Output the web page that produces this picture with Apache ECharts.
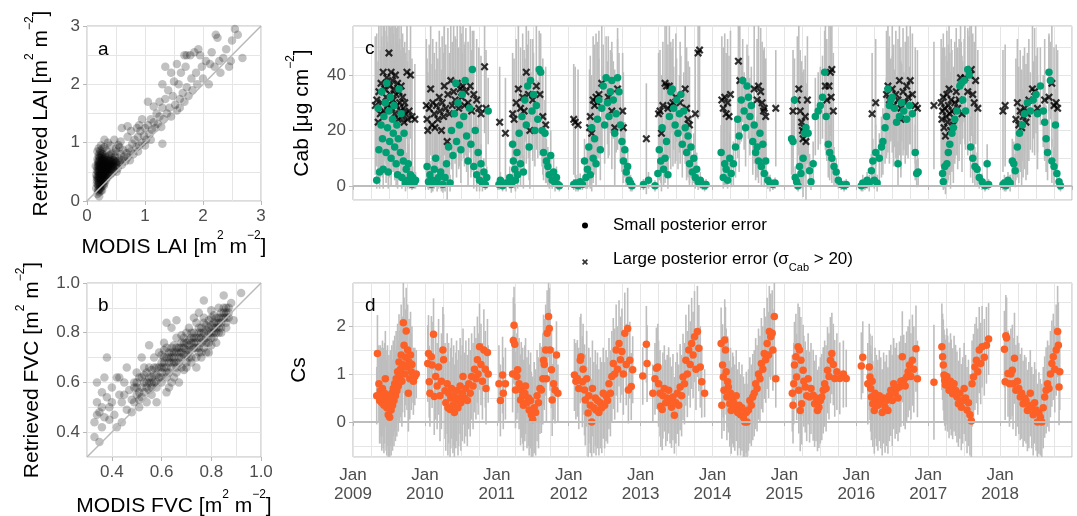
<!DOCTYPE html>
<html>
<head>
<meta charset="utf-8">
<title>LAI / FVC / Cab / Cs</title>
<script src="https://cdn.jsdelivr.net/npm/echarts@6/dist/echarts.min.js"></script>
<style>
html, body { margin: 0; padding: 0; background: #fff; }
#chart { width: 1077px; height: 516px; }
</style>
</head>
<body>
<div id="chart"></div>
<script>
// panel a: [MODIS LAI, retrieved LAI]
const laiPoints = [
  [0.18,0.12],[0.2,0.2],[0.22,0.3],[0.19,0.38],[0.21,0.45],[0.17,0.52],[0.23,0.58],[0.2,0.65],[0.18,0.72],[0.22,0.82],
  [0.25,0.25],[0.26,0.35],[0.24,0.42],[0.27,0.5],[0.25,0.6],[0.28,0.68],[0.26,0.76],[0.3,0.3],[0.31,0.4],[0.29,0.48],
  [0.32,0.55],[0.3,0.62],[0.33,0.7],[0.31,0.78],[0.21,0.15],[0.23,0.22],[0.19,0.28],[0.24,0.33],[0.2,0.55],[0.22,0.48],
  [0.28,0.44],[0.34,0.46],[0.35,0.58],[0.36,0.64],[0.38,0.5],[0.37,0.72],[0.4,0.55],[0.42,0.62],[0.39,0.68],[0.41,0.8],
  [0.44,0.58],[0.45,0.7],[0.47,0.64],[0.43,0.48],[0.48,0.76],[0.5,0.6],[0.52,0.68],[0.49,0.85],[0.53,0.56],[0.55,0.74],
  [0.57,0.66],[0.58,0.8],[0.6,0.7],[0.62,0.88],[0.56,0.92],[0.6,0.62],[0.64,0.76],[0.66,0.68],[0.18,0.85],[0.16,0.45],
  [0.15,0.6],[0.17,0.3],[0.2,0.9],[0.27,0.9],[0.24,0.95],[0.34,0.86],[0.3,0.92],[0.22,0.7],[0.26,0.55],[0.29,0.58],
  [0.32,0.35],[0.35,0.4],[0.37,0.44],[0.33,0.52],[0.4,0.45],[0.46,0.52],[0.51,0.5],[0.36,0.55],[0.39,0.6],[0.43,0.67],
  [0.45,0.62],[0.48,0.68],[0.42,0.74],[0.2,0.35],[0.23,0.4],[0.25,0.47],[0.21,0.6],[0.19,0.68],[0.28,0.62],[0.31,0.66],
  [0.27,0.72],[0.24,0.78],[0.26,0.18],[0.21,0.08],[0.29,0.26],[0.33,0.6],[0.38,0.78],[0.44,0.82],[0.5,0.9],[0.54,0.96],
  [0.58,1.02],[0.47,1.05],[0.4,0.95],[0.36,1.0],[0.3,1.05],[0.2,0.5],[0.22,0.42],[0.24,0.52],[0.2,0.25],[0.23,0.62],
  [0.26,0.45],[0.28,0.35],[0.3,0.5],[0.21,0.75],[0.25,0.7],
  [0.16,0.22],[0.17,0.35],[0.18,0.42],[0.19,0.18],[0.19,0.5],[0.2,0.42],[0.2,0.6],[0.2,0.78],[0.21,0.32],[0.21,0.52],
  [0.21,0.68],[0.22,0.2],[0.22,0.38],[0.22,0.56],[0.22,0.64],[0.23,0.28],[0.23,0.46],[0.23,0.74],[0.23,0.86],[0.24,0.18],
  [0.24,0.37],[0.24,0.58],[0.24,0.66],[0.25,0.3],[0.25,0.52],[0.25,0.82],[0.26,0.4],[0.26,0.62],[0.26,0.68],[0.27,0.28],
  [0.27,0.45],[0.27,0.58],[0.27,0.8],[0.28,0.38],[0.28,0.52],[0.28,0.74],[0.29,0.34],[0.29,0.64],[0.29,0.7],[0.3,0.45],
  [0.3,0.55],[0.3,0.72],[0.31,0.5],[0.31,0.6],[0.32,0.44],[0.32,0.66],[0.32,0.75],[0.33,0.4],[0.33,0.56],[0.34,0.52],
  [0.34,0.64],[0.35,0.5],[0.35,0.7],[0.36,0.46],[0.36,0.6],[0.37,0.56],[0.38,0.62],[0.38,0.68],[0.39,0.54],[0.4,0.64],
  [0.41,0.58],[0.41,0.7],[0.42,0.54],[0.43,0.6],[0.44,0.66],[0.45,0.56],[0.46,0.6],[0.47,0.7],[0.5,0.66],[0.52,0.62],
  [0.18,0.58],[0.17,0.4],[0.19,0.62],[0.2,0.3],[0.21,0.4],[0.23,0.52],[0.25,0.42],[0.26,0.5],[0.28,0.58],[0.3,0.4],
  [0.68,0.82],[0.7,0.75],[0.72,0.9],[0.75,0.85],[0.78,0.98],[0.8,0.8],[0.82,1.05],[0.85,0.92],[0.88,1.1],[0.9,0.95],
  [0.92,1.2],[0.95,1.0],[0.98,1.12],[1.0,1.25],[1.02,1.05],[1.05,1.3],[1.08,1.15],[1.1,1.4],[1.12,1.22],[1.15,1.35],
  [1.18,1.25],[1.2,1.5],[1.22,1.32],[1.25,1.45],[1.28,1.27],[1.3,1.6],[0.7,1.1],[0.76,1.2],[0.86,1.25],[0.95,1.4],
  [0.74,0.7],[0.88,0.85],[1.0,0.95],[1.1,1.05],[1.3,0.98],[1.15,1.62],[1.05,1.7],[0.9,1.3],[0.6,1.25],[0.7,1.28],[1.25,1.7],
  [1.32,1.4],[1.35,1.75],[1.38,1.5],[1.4,1.9],[1.42,1.6],[1.45,1.45],[1.48,1.8],[1.5,2.05],[1.52,1.65],[1.55,1.55],
  [1.58,2.0],[1.6,1.75],[1.62,2.2],[1.65,1.85],[1.68,1.7],[1.7,2.3],[1.72,1.95],[1.75,1.8],[1.78,2.5],[1.8,2.1],
  [1.82,1.9],[1.85,2.55],[1.88,2.2],[1.9,2.0],[1.95,2.5],[1.98,2.3],[2.0,2.1],[1.45,2.2],[1.55,2.35],[1.3,2.0],
  [1.35,2.3],[1.68,2.5],[1.72,2.5],[1.6,1.6],[2.05,2.4],[2.1,2.0],[2.15,2.55],[2.2,2.3],[2.22,2.85],[2.25,2.8],
  [2.28,2.4],[2.3,2.2],[2.35,2.45],[2.4,2.6],[2.45,2.3],[2.5,2.75],[2.55,2.95],[2.6,2.85],[2.68,2.45],[2.48,2.4],
  [2.12,2.35],[1.92,2.6]
];

// panel b: [MODIS FVC, retrieved FVC]
const fvcPoints = [
  [0.33,0.44],[0.34,0.52],[0.35,0.48],[0.33,0.38],[0.36,0.56],[0.37,0.46],[0.38,0.54],[0.34,0.6],[0.36,0.42],[0.39,0.5],
  [0.4,0.58],[0.38,0.7],[0.41,0.47],[0.42,0.62],[0.43,0.55],[0.44,0.52],[0.45,0.6],[0.46,0.49],[0.44,0.44],[0.47,0.57],
  [0.48,0.53],[0.42,0.42],[0.35,0.36],[0.37,0.62],[0.4,0.52],[0.45,0.55],[0.46,0.66],[0.49,0.6],[0.48,0.48],[0.43,0.62],
  [0.39,0.45],[0.34,0.47],[0.36,0.5],
  [0.49,0.52],[0.5,0.55],[0.5,0.6],[0.51,0.53],[0.5,0.64],[0.52,0.58],[0.52,0.62],[0.53,0.56],[0.54,0.6],[0.53,0.66],
  [0.55,0.62],[0.55,0.57],[0.56,0.65],[0.56,0.6],[0.57,0.7],[0.57,0.63],[0.58,0.58],[0.58,0.66],[0.59,0.62],[0.59,0.72],
  [0.6,0.64],[0.6,0.68],[0.51,0.5],[0.54,0.52],[0.56,0.55],[0.58,0.52],[0.55,0.75],[0.52,0.7],[0.49,0.58],
  [0.61,0.66],[0.61,0.7],[0.62,0.62],[0.62,0.74],[0.63,0.68],[0.63,0.64],[0.64,0.72],[0.64,0.66],[0.65,0.7],[0.65,0.75],
  [0.66,0.68],[0.66,0.64],[0.66,0.78],[0.67,0.72],[0.67,0.7],[0.68,0.74],[0.68,0.66],[0.69,0.76],[0.69,0.71],[0.7,0.73],
  [0.7,0.68],[0.7,0.8],[0.62,0.84],[0.64,0.82],[0.6,0.6],[0.63,0.58],[0.65,0.62],[0.67,0.6],[0.69,0.65],[0.62,0.56],
  [0.66,0.85],[0.64,0.6],[0.61,0.76],[0.68,0.79],
  [0.71,0.75],[0.71,0.7],[0.72,0.78],[0.72,0.73],[0.73,0.76],[0.73,0.8],[0.74,0.74],[0.74,0.7],[0.75,0.78],[0.75,0.82],
  [0.76,0.76],[0.76,0.8],[0.77,0.74],[0.77,0.84],[0.78,0.78],[0.78,0.81],[0.79,0.76],[0.79,0.85],[0.8,0.8],[0.8,0.83],
  [0.72,0.68],[0.74,0.66],[0.76,0.72],[0.78,0.72],[0.8,0.75],[0.73,0.86],[0.75,0.88],[0.77,0.93],[0.71,0.82],[0.79,0.72],
  [0.76,0.7],[0.74,0.84],
  [0.81,0.82],[0.81,0.78],[0.82,0.84],[0.82,0.8],[0.83,0.86],[0.83,0.82],[0.84,0.88],[0.84,0.84],[0.85,0.86],[0.85,0.9],
  [0.86,0.88],[0.86,0.84],[0.87,0.9],[0.82,0.76],[0.84,0.8],[0.86,0.82],[0.88,0.92],[0.85,0.95],[0.83,0.9],[0.92,0.96],
  [0.89,0.85],[0.81,0.87],[0.8,0.89],[0.87,0.86],
  [0.5,0.58],[0.51,0.56],[0.51,0.62],[0.52,0.54],[0.53,0.6],[0.54,0.58],[0.54,0.64],[0.55,0.6],[0.56,0.62],[0.57,0.6],
  [0.57,0.66],[0.58,0.63],[0.59,0.66],[0.6,0.66],[0.6,0.71],[0.61,0.68],[0.61,0.73],[0.62,0.7],[0.62,0.66],[0.63,0.72],
  [0.63,0.7],[0.64,0.68],[0.64,0.74],[0.65,0.72],[0.65,0.68],[0.66,0.72],[0.66,0.74],[0.67,0.74],[0.67,0.68],[0.68,0.72],
  [0.68,0.76],[0.69,0.74],[0.69,0.78],[0.7,0.76],[0.7,0.71],[0.71,0.77],[0.71,0.73],[0.72,0.76],[0.72,0.8],[0.73,0.74],
  [0.73,0.78],[0.74,0.78],[0.74,0.76],[0.75,0.8],[0.75,0.74],[0.76,0.78],[0.76,0.82],[0.77,0.8],[0.77,0.77],[0.78,0.83],
  [0.78,0.76],[0.79,0.8],[0.79,0.82],[0.8,0.78],[0.8,0.86],[0.81,0.84],[0.81,0.8],[0.82,0.86],[0.82,0.82],[0.83,0.84],
  [0.83,0.8],[0.84,0.86],[0.84,0.82],[0.85,0.88],[0.86,0.86],[0.86,0.9],[0.87,0.88],[0.75,0.72],[0.72,0.7],[0.7,0.66],
  [0.68,0.7],[0.66,0.66],[0.64,0.7],[0.62,0.64],[0.6,0.62],[0.58,0.6],[0.56,0.58],[0.55,0.66],[0.53,0.63],[0.77,0.86]
];

// 1:1 reference lines
const identityLai = [[0, 0], [3, 3]];
const identityFvc = [[0.3, 0.3], [1, 1]];

// panel c: [decimal year, Cab, posterior sd], small posterior error
const cabSmall = [
  [2009.33,2,3],[2009.35,28,14],[2009.36,13,10],[2009.37,5,6],[2009.39,22,16],[2009.40,34,16],[2009.41,17,14],[2009.42,6,7],
  [2009.43,25,16],[2009.45,30,17],[2009.46,12,11],[2009.47,37,17],[2009.48,21,15],[2009.49,5,6],[2009.50,27,16],[2009.51,16,13],
  [2009.52,32,17],[2009.53,10,10],[2009.55,24,16],[2009.56,19,14],[2009.57,29,17],[2009.58,14,12],[2009.60,8,8],[2009.61,22,15],
  [2009.62,4,5],[2009.63,17,13],[2009.64,35,16],[2009.66,12,10],[2009.67,26,15],[2009.68,3,4],[2009.70,9,8],[2009.71,19,13],
  [2009.73,1,3],[2009.74,6,6],[2009.76,2,3],[2009.77,8,7],[2009.79,1,2],[2009.80,4,4],[2009.82,0.5,2],[2009.83,3,4],
  [2009.85,1,2],[2009.87,2,3],
  [2010.03,7,7],[2010.05,1.5,3],[2010.07,4,5],[2010.09,0.5,3],[2010.11,2,4],[2010.13,6,7],[2010.15,10,9],[2010.17,1,3],
  [2010.19,3,4],[2010.22,5,6],[2010.25,0.5,3],[2010.28,3,5],[2010.30,8,8],[2010.33,14,12],[2010.35,1,3],[2010.37,20,14],
  [2010.39,11,10],[2010.41,26,16],[2010.43,37,16],[2010.44,16,13],[2010.46,30,15],[2010.48,22,15],[2010.50,13,12],[2010.52,33,15],
  [2010.54,25,15],[2010.56,38,14],[2010.58,18,13],[2010.60,9,9],[2010.62,28,14],[2010.64,15,12],[2010.66,42,14],[2010.68,7,8],
  [2010.70,20,13],[2010.72,4,6],[2010.74,12,10],[2010.76,2,4],[2010.78,8,7],[2010.80,1,3],[2010.82,5,5],[2010.84,0.5,2],
  [2010.86,3,4],[2010.88,27,12],
  [2011.03,0.5,2],[2011.05,2,3],[2011.08,0,2],[2011.13,1,3],[2011.18,3,4],[2011.20,0.5,3],[2011.22,15,12],[2011.23,9,9],
  [2011.25,6,7],[2011.26,2,4],[2011.28,12,11],[2011.29,4,5],[2011.31,19,14],[2011.33,8,8],[2011.35,25,15],[2011.37,5,6],
  [2011.39,31,15],[2011.41,22,14],[2011.43,36,15],[2011.45,14,12],[2011.47,38,15],[2011.49,27,14],[2011.51,33,15],[2011.53,20,13],
  [2011.55,29,14],[2011.57,24,14],[2011.59,42,14],[2011.61,41,14],[2011.63,20,13],[2011.65,12,10],[2011.67,19,12],[2011.69,9,8],
  [2011.71,7,7],[2011.73,4,5],[2011.75,11,9],[2011.77,2,3],[2011.79,5,5],[2011.81,1,3],[2011.83,3,4],[2011.85,0.5,2],[2011.87,0,2],
  [2012.07,0.5,2],[2012.10,1,3],[2012.13,0,2],[2012.16,1.5,3],[2012.19,0.5,2],[2012.22,9,8],[2012.24,3,4],[2012.26,6,7],
  [2012.28,14,11],[2012.30,4,5],[2012.32,21,14],[2012.34,10,9],[2012.36,17,13],[2012.38,8,8],[2012.40,24,14],[2012.42,31,15],
  [2012.44,13,11],[2012.46,28,15],[2012.48,36,15],[2012.50,22,14],[2012.52,39,15],[2012.54,30,15],[2012.56,25,14],[2012.58,34,15],
  [2012.60,38,14],[2012.62,31,14],[2012.64,19,13],[2012.66,26,14],[2012.68,39,14],[2012.70,34,14],[2012.72,22,13],[2012.74,16,11],
  [2012.76,9,8],[2012.78,13,10],[2012.80,5,5],[2012.82,7,6],[2012.84,2,3],[2012.86,1,3],[2012.88,0,2],
  [2013.04,0.5,2],[2013.11,2,3],[2013.20,0,2],
  [2013.24,4.5,5],[2013.26,13,11],[2013.28,9,8],[2013.30,21,14],[2013.32,6,6],[2013.34,10,9],[2013.36,16,12],[2013.38,4,5],
  [2013.40,25,15],[2013.42,34,15],[2013.44,35,15],[2013.46,28,15],[2013.48,22,14],[2013.50,31,15],[2013.52,19,13],[2013.54,26,14],
  [2013.56,33,14],[2013.58,15,12],[2013.60,27,14],[2013.62,21,13],[2013.64,12,10],[2013.66,18,12],[2013.68,8,8],[2013.70,14,11],
  [2013.72,5,5],[2013.74,10,9],[2013.76,3,4],[2013.78,6,6],[2013.80,1.5,3],[2013.83,2,3],[2013.86,0.5,2],[2013.89,0,2],[2013.91,0.5,2],
  [2014.12,12,10],[2014.15,3,4],[2014.17,8,8],[2014.19,6,6],[2014.21,2,3],[2014.24,10,9],[2014.26,4.5,5],[2014.29,8,8],
  [2014.32,14,11],[2014.35,24,14],[2014.37,18,13],[2014.40,31,15],[2014.42,38,15],[2014.44,27,14],[2014.46,21,14],[2014.48,36,15],
  [2014.50,32,15],[2014.52,25,14],[2014.54,29,14],[2014.56,16,12],[2014.58,22,14],[2014.60,12,10],[2014.62,14,11],[2014.64,9,8],
  [2014.66,19,12],[2014.68,7,7],[2014.70,15,11],[2014.72,4.5,5],[2014.74,9,8],[2014.77,2,3],[2014.80,1,3],[2014.84,0.5,2],[2014.87,1,2],
  [2015.10,17,13],[2015.12,16,12],[2015.14,31,15],[2015.15,3,4],[2015.17,1.5,3],[2015.19,0,2],[2015.21,7,7],[2015.23,4.5,5],
  [2015.26,10,9],[2015.28,19,13],[2015.30,21,13],[2015.33,19,13],[2015.35,5.5,6],[2015.37,1.5,3],[2015.40,8,8],[2015.43,25,14],
  [2015.47,27,14],[2015.50,29,14],[2015.53,32,15],[2015.56,41,15],[2015.58,25,14],[2015.61,15,12],[2015.63,12,10],[2015.66,10,9],
  [2015.69,7,7],[2015.72,5,5],[2015.75,2,3],[2015.79,0.5,2],[2015.83,0,2],[2015.86,0.5,2],
  [2016.07,0,2],[2016.09,1,3],[2016.12,0.5,2],[2016.15,2,3],[2016.18,1,3],[2016.21,5.5,6],[2016.23,9,8],[2016.25,2,3],
  [2016.27,12,10],[2016.29,1,3],[2016.32,10,9],[2016.35,14,11],[2016.37,16,12],[2016.40,21,13],[2016.42,25,14],[2016.44,35,15],
  [2016.46,29,14],[2016.48,31,15],[2016.50,32,15],[2016.53,28,14],[2016.56,23,14],[2016.58,8,8],[2016.60,25,14],[2016.63,30,14],
  [2016.66,27,14],[2016.70,24,13],[2016.74,29,14],[2016.78,26,13],[2016.82,12,10],[2016.84,4.5,5],[2016.86,5,5],
  [2017.20,4.5,5],[2017.21,1.5,3],[2017.23,7,7],[2017.26,8,8],[2017.28,12,10],[2017.30,15,11],[2017.33,19,13],[2017.35,21,13],
  [2017.37,24,14],[2017.40,27,14],[2017.44,36,15],[2017.46,37,15],[2017.48,31,14],[2017.50,38,15],[2017.52,27,14],[2017.55,42,14],
  [2017.57,40,14],[2017.59,14,11],[2017.62,10,9],[2017.65,7,7],[2017.68,6,6],[2017.71,3,4],[2017.75,1.5,3],[2017.79,0,2],
  [2017.82,8,7],[2017.84,0.5,2],
  [2018.04,0.5,2],[2018.06,1,3],[2018.08,0,2],[2018.11,2,3],[2018.14,1,3],[2018.17,9,8],[2018.19,8,8],[2018.21,5.5,6],
  [2018.24,14,11],[2018.27,19,12],[2018.31,22,13],[2018.34,26,14],[2018.38,30,14],[2018.42,27,14],[2018.46,31,14],[2018.50,33,14],
  [2018.52,26,14],[2018.56,36,14],[2018.60,27,13],[2018.62,23,13],[2018.64,17,12],[2018.66,12,10],[2018.68,41,14],[2018.70,38,14],
  [2018.72,9,8],[2018.75,7,7],[2018.77,22,13],[2018.79,4.5,5],[2018.82,1.5,3],[2018.84,0,2]
];

// panel c: large posterior error (sd > 20)
const cabLarge = [
  [2009.31,29,25],[2009.33,31,24],[2009.35,23,22],[2009.36,34,26],[2009.38,26,23],[2009.39,37,25],[2009.40,30,24],[2009.42,41,26],
  [2009.43,27,23],[2009.44,35,25],[2009.46,32,24],[2009.47,39,25],[2009.48,29,23],[2009.50,48,27],[2009.51,36,25],[2009.52,33,24],
  [2009.53,41,25],[2009.54,28,23],[2009.55,38,25],[2009.56,31,24],[2009.57,35,24],[2009.58,26,22],[2009.59,40,25],[2009.60,33,24],
  [2009.61,29,23],[2009.62,37,25],[2009.63,24,22],[2009.64,34,24],[2009.65,30,23],[2009.66,27,22],[2009.67,36,24],[2009.68,25,22],
  [2009.69,32,23],[2009.70,28,22],[2009.71,23,21],[2009.72,30,22],[2009.73,26,22],[2009.75,41,24],[2009.76,24,21],[2009.78,27,22],
  [2009.80,40,23],[2009.82,25,21],[2009.86,24,20],
  [2010.02,29,24],[2010.03,24,22],[2010.04,20,21],[2010.06,28,23],[2010.08,35,24],[2010.10,22,22],[2010.11,30,23],[2010.13,26,22],
  [2010.14,21,21],[2010.16,29,23],[2010.18,24,22],[2010.20,32,24],[2010.21,27,23],[2010.23,20,22],[2010.24,30,24],[2010.26,25,23],
  [2010.27,36,25],[2010.29,28,23],[2010.31,16,21],[2010.32,33,24],[2010.34,26,22],[2010.36,38,25],[2010.38,29,23],[2010.40,34,24],
  [2010.42,31,23],[2010.45,37,24],[2010.47,28,22],[2010.49,35,24],[2010.51,32,23],[2010.53,36,24],[2010.55,29,22],[2010.57,34,23],
  [2010.60,30,22],[2010.63,36,24],[2010.65,27,22],[2010.68,33,23],[2010.72,31,22],[2010.75,28,22],[2010.78,26,21],[2010.83,43,24],
  [2010.85,28,21],
  [2011.04,23,20],[2011.12,19,20],[2011.22,26,22],[2011.24,24,22],[2011.27,30,23],[2011.30,35,24],[2011.33,28,22],[2011.36,32,23],
  [2011.38,27,22],[2011.41,41,24],[2011.44,33,23],[2011.46,20,21],[2011.50,31,22],[2011.55,36,23],[2011.60,33,22],[2011.64,25,21],
  [2011.68,22,21],
  [2012.07,24,20],[2012.09,23,20],[2012.13,22,20],[2012.29,21,21],[2012.30,25,22],[2012.32,19,21],[2012.34,31,23],[2012.36,29,22],
  [2012.38,32,23],[2012.40,30,22],[2012.42,33,23],[2012.46,37,24],[2012.55,32,22],[2012.60,27,21],[2012.64,21,21],[2012.68,35,22],
  [2012.75,27,21],[2012.76,21,20],[2013.08,17,20],
  [2013.25,26,22],[2013.27,27,22],[2013.29,19,21],[2013.31,29,23],[2013.34,37,25],[2013.36,36,24],[2013.38,28,23],[2013.40,36,24],
  [2013.42,29,23],[2013.45,30,23],[2013.49,32,23],[2013.55,30,22],[2013.62,35,23],[2013.64,28,22],[2013.66,24,21],[2013.68,22,21],
  [2013.76,26,21],[2013.80,48,24],[2013.82,49,24],
  [2014.13,31,23],[2014.15,28,22],[2014.17,32,23],[2014.19,26,22],[2014.21,30,23],[2014.23,25,22],[2014.25,33,23],[2014.36,45,24],
  [2014.38,38,23],[2014.58,35,23],[2014.62,31,22],[2014.64,36,23],[2014.67,34,23],[2014.69,30,22],[2014.71,27,22],[2014.72,28,22],
  [2014.74,25,21],[2014.88,28,21],
  [2015.12,27,22],[2015.18,31,23],[2015.20,35,24],[2015.22,27,22],[2015.24,23,22],[2015.25,20,21],[2015.26,17,21],[2015.27,21,21],
  [2015.29,25,22],[2015.32,31,23],[2015.30,16,21],[2015.57,36,23],[2015.59,31,22],[2015.64,41,23],[2015.66,42,23],[2015.62,36,22],
  [2015.68,27,21],[2015.65,32,22],
  [2016.22,26,22],[2016.27,30,23],[2016.42,33,23],[2016.44,36,24],[2016.46,31,23],[2016.50,35,23],[2016.52,29,22],[2016.55,33,23],
  [2016.58,31,22],[2016.60,38,24],[2016.62,28,22],[2016.65,34,23],[2016.68,30,22],[2016.70,36,23],[2016.72,32,22],[2016.75,38,23],
  [2016.78,33,22],[2016.82,29,21],[2016.85,28,21],[2016.62,24,21],
  [2017.08,29,23],[2017.18,30,23],[2017.19,24,22],[2017.20,27,23],[2017.21,32,23],[2017.22,21,22],[2017.23,28,22],[2017.24,18,21],
  [2017.25,25,22],[2017.26,33,23],[2017.27,23,22],[2017.28,29,22],[2017.29,35,24],[2017.30,26,22],[2017.31,20,21],[2017.32,31,22],
  [2017.33,27,22],[2017.35,22,21],[2017.37,30,22],[2017.39,34,23],[2017.41,28,22],[2017.43,31,22],[2017.45,39,24],[2017.47,26,21],
  [2017.51,39,24],[2017.55,34,23],[2017.58,40,24],[2017.60,42,24],[2017.62,33,22],[2017.64,30,22],[2017.66,38,23],[2017.69,28,21],
  [2018.04,27,22],[2018.07,29,22],[2018.22,24,22],[2018.24,30,23],[2018.26,22,21],[2018.28,27,22],[2018.30,21,21],[2018.32,25,22],
  [2018.34,28,22],[2018.36,23,21],[2018.38,26,22],[2018.40,31,22],[2018.45,35,23],[2018.48,34,23],[2018.52,28,22],[2018.62,31,22],
  [2018.68,32,22],[2018.72,37,23],[2018.75,29,21],[2018.78,30,21],[2018.80,28,21]
];

// panel d: [decimal year, Cs, posterior sd]
const csPoints = [
  [2009.33,0.55,0.6],[2009.34,1.43,0.8],[2009.36,0.8,0.8],[2009.37,0.45,0.9],[2009.38,0.65,0.95],[2009.39,0.55,1.0],[2009.40,0.4,1.0],
  [2009.41,0.7,1.0],[2009.42,0.5,1.05],[2009.43,0.35,1.0],[2009.44,0.6,1.05],[2009.45,0.9,1.0],[2009.46,0.45,1.05],[2009.47,0.3,1.0],
  [2009.48,0.55,1.05],[2009.49,0.15,0.9],[2009.50,0.4,1.0],[2009.51,0.1,0.9],[2009.52,0.5,1.0],[2009.53,0.25,0.95],[2009.54,0.6,1.0],
  [2009.55,0.35,0.95],[2009.56,0.7,1.0],[2009.57,0.45,0.95],[2009.58,0.8,1.0],[2009.59,0.55,0.95],[2009.60,0.9,1.0],[2009.61,0.65,0.95],
  [2009.62,1.05,1.0],[2009.63,0.75,0.95],[2009.64,1.25,1.0],[2009.65,0.95,0.95],[2009.66,1.1,1.0],[2009.67,1.4,1.05],[2009.68,0.85,0.95],
  [2009.69,1.2,1.0],[2009.70,2.07,0.9],[2009.71,1.6,1.0],[2009.72,1.0,0.9],[2009.73,1.35,1.0],[2009.74,1.9,0.9],[2009.75,1.15,0.9],
  [2009.76,1.5,0.95],[2009.77,0.6,0.8],[2009.78,1.25,0.9],[2009.79,0.9,0.85],[2009.80,1.4,0.9],[2009.81,1.05,0.8],[2009.82,1.2,0.8],
  [2009.84,0.85,0.7],[2009.86,0.95,0.6],[2009.88,1.0,0.5],
  [2010.04,1.22,0.8],[2010.05,1.43,0.8],[2010.06,0.84,0.75],[2010.07,0.6,0.7],[2010.09,1.36,0.85],[2010.10,1.19,0.9],[2010.12,1.83,0.75],
  [2010.13,0.53,0.8],[2010.15,0.95,0.9],[2010.17,0.75,0.9],[2010.19,1.15,1.0],[2010.21,0.55,0.95],[2010.23,0.85,1.0],[2010.25,1.5,0.9],
  [2010.26,1.3,0.95],[2010.28,0.65,1.0],[2010.29,0.4,1.0],[2010.31,0.8,1.05],[2010.32,0.3,1.0],[2010.33,0.6,1.05],[2010.35,0.26,1.0],
  [2010.36,0.5,1.05],[2010.37,0.7,1.05],[2010.39,0.35,1.0],[2010.40,0.55,1.05],[2010.41,0.2,1.0],[2010.43,0.45,1.0],[2010.44,0.65,1.05],
  [2010.46,0.3,1.0],[2010.47,0.5,1.0],[2010.49,0.75,1.0],[2010.50,0.4,1.0],[2010.52,0.6,1.0],[2010.53,0.95,1.0],[2010.55,0.5,0.95],
  [2010.57,0.7,1.0],[2010.59,0.45,0.95],[2010.61,0.8,0.95],[2010.63,0.6,0.9],[2010.65,0.95,0.9],[2010.67,0.75,0.9],[2010.69,1.1,0.9],
  [2010.71,0.9,0.85],[2010.73,1.3,0.9],[2010.74,1.0,0.85],[2010.76,1.57,0.9],[2010.78,1.2,0.85],[2010.80,0.85,0.8],[2010.82,1.5,0.85],
  [2010.84,1.1,0.8],[2010.85,0.7,0.75],[2010.87,1.45,0.7],[2010.88,1.0,0.6],
  [2011.03,0.8,0.8],[2011.05,0.45,0.75],[2011.08,0.98,0.8],[2011.09,0.6,0.75],[2011.12,0.8,0.75],[2011.22,1.0,0.8],[2011.23,1.7,0.9],
  [2011.24,2.02,0.8],[2011.25,1.62,0.85],[2011.26,0.67,0.8],[2011.28,0.95,0.9],[2011.29,1.09,0.9],[2011.31,0.8,0.95],[2011.33,0.46,0.95],
  [2011.34,0.67,1.0],[2011.36,0.55,1.0],[2011.37,0.35,0.95],[2011.39,0.6,1.0],[2011.40,0.75,1.0],[2011.42,0.4,0.95],[2011.44,0.5,1.0],
  [2011.45,0.25,0.95],[2011.47,0.45,1.0],[2011.48,0.15,0.9],[2011.50,0.05,0.9],[2011.52,0.3,0.95],[2011.54,0.2,0.9],[2011.56,0.55,0.95],
  [2011.58,0.4,0.95],[2011.60,0.7,0.95],[2011.62,0.67,0.9],[2011.64,0.9,0.95],[2011.65,1.29,0.95],[2011.66,1.2,0.95],[2011.68,1.5,0.95],
  [2011.69,0.9,0.9],[2011.70,1.85,0.9],[2011.72,2.2,0.85],[2011.73,1.95,0.85],[2011.74,1.5,0.85],[2011.76,1.09,0.8],[2011.77,0.46,0.75],
  [2011.79,0.8,0.75],[2011.81,0.67,0.7],[2011.83,1.4,0.7],[2011.85,0.6,0.6],
  [2012.08,0.98,0.75],[2012.10,0.85,0.8],[2012.12,0.91,0.8],[2012.14,0.7,0.85],[2012.16,1.29,0.9],[2012.17,1.36,0.9],[2012.19,0.84,0.95],
  [2012.20,1.1,0.95],[2012.22,0.67,0.95],[2012.23,0.46,0.95],[2012.25,0.9,1.0],[2012.27,0.19,0.95],[2012.28,0.55,1.0],[2012.30,0.35,1.0],
  [2012.32,0.0,0.9],[2012.33,0.7,1.0],[2012.35,0.3,0.95],[2012.37,0.5,1.0],[2012.38,0.25,0.95],[2012.40,0.45,1.0],[2012.42,0.2,0.9],
  [2012.44,0.4,0.95],[2012.46,0.3,0.95],[2012.48,0.6,0.95],[2012.50,0.35,0.9],[2012.52,0.55,0.95],[2012.54,0.45,0.9],[2012.56,0.8,0.95],
  [2012.58,0.6,0.9],[2012.60,0.95,0.95],[2012.62,1.22,0.95],[2012.64,1.0,0.95],[2012.66,1.5,0.95],[2012.68,1.1,0.9],[2012.70,1.64,0.9],
  [2012.72,1.3,0.9],[2012.74,1.47,0.9],[2012.76,1.0,0.85],[2012.78,1.85,0.85],[2012.80,1.2,0.85],[2012.82,1.95,0.85],[2012.83,0.67,0.7],
  [2012.85,1.29,0.8],[2012.87,0.74,0.7],[2012.89,1.09,0.7],
  [2013.03,0.96,0.6],[2013.08,1.62,0.8],[2013.09,1.22,0.8],[2013.17,0.6,0.6],[2013.20,0.9,0.75],[2013.22,1.12,0.85],[2013.24,1.15,0.9],
  [2013.25,0.8,0.9],[2013.27,0.6,0.9],[2013.28,0.33,0.85],[2013.30,0.26,0.85],[2013.31,0.55,0.9],[2013.33,0.7,0.9],[2013.35,0.4,0.9],
  [2013.37,0.5,0.9],[2013.39,0.66,0.9],[2013.41,0.45,0.9],[2013.43,0.31,0.85],[2013.45,0.52,0.9],[2013.47,0.14,0.8],[2013.49,0.4,0.85],
  [2013.51,0.6,0.85],[2013.53,0.35,0.85],[2013.55,0.73,0.9],[2013.57,0.55,0.85],[2013.59,0.94,0.9],[2013.61,0.8,0.85],[2013.63,1.29,0.95],
  [2013.65,1.0,0.9],[2013.67,1.5,0.95],[2013.69,1.2,0.9],[2013.71,1.64,0.95],[2013.73,1.4,0.9],[2013.75,1.78,0.95],[2013.77,1.1,0.85],
  [2013.79,1.89,0.95],[2013.81,1.54,0.9],[2013.83,1.15,0.85],[2013.85,0.84,0.75],[2013.89,0.6,0.5],
  [2014.12,1.64,0.75],[2014.13,0.35,0.7],[2014.14,1.19,0.85],[2014.15,0.94,0.85],[2014.16,0.66,0.85],[2014.17,1.71,0.85],[2014.18,1.5,0.9],
  [2014.19,1.05,0.9],[2014.20,0.52,0.9],[2014.21,0.84,0.95],[2014.22,0.73,0.95],[2014.24,0.38,0.9],[2014.25,0.6,0.95],[2014.26,0.24,0.9],
  [2014.28,0.5,0.95],[2014.29,0.42,0.95],[2014.31,0.3,0.9],[2014.33,0.55,0.95],[2014.35,0.2,0.9],[2014.37,0.35,0.9],[2014.39,0.15,0.85],
  [2014.41,0.3,0.9],[2014.43,0.1,0.85],[2014.45,0.0,0.8],[2014.47,0.2,0.85],[2014.48,0.0,0.8],[2014.50,0.25,0.85],[2014.52,0.45,0.9],
  [2014.54,0.35,0.85],[2014.56,0.52,0.9],[2014.58,0.6,0.9],[2014.60,0.8,0.95],[2014.62,0.7,0.9],[2014.64,1.0,0.95],[2014.66,0.9,0.9],
  [2014.68,1.22,0.95],[2014.70,1.1,0.9],[2014.72,1.43,0.95],[2014.74,1.3,0.9],[2014.76,1.64,0.95],[2014.78,1.4,0.9],[2014.79,1.89,0.95],
  [2014.81,1.78,0.9],[2014.83,1.85,0.9],[2014.84,1.5,0.85],[2014.86,2.2,0.75],[2014.88,0.9,0.6],
  [2015.11,0.6,0.8],[2015.12,0.35,0.8],[2015.13,0.8,0.85],[2015.14,1.19,0.9],[2015.16,1.36,0.9],[2015.17,0.94,0.9],[2015.19,1.57,0.9],
  [2015.20,0.66,0.9],[2015.21,1.5,0.9],[2015.22,0.24,0.85],[2015.23,1.29,0.9],[2015.24,0.38,0.85],[2015.26,1.08,0.95],[2015.27,0.85,0.95],
  [2015.29,0.73,0.95],[2015.31,0.55,0.95],[2015.33,0.9,0.95],[2015.35,0.52,0.95],[2015.37,0.7,0.95],[2015.40,0.56,0.95],[2015.42,0.38,0.9],
  [2015.44,0.5,0.9],[2015.46,0.24,0.85],[2015.48,0.31,0.85],[2015.50,0.45,0.9],[2015.52,0.52,0.9],[2015.54,0.66,0.9],[2015.56,0.8,0.9],
  [2015.58,0.7,0.9],[2015.60,1.08,0.9],[2015.62,0.95,0.9],[2015.64,1.29,0.9],[2015.66,1.43,0.85],[2015.68,1.2,0.85],[2015.70,0.91,0.8],
  [2015.73,1.05,0.8],[2015.77,0.91,0.75],[2015.82,1.0,0.7],[2015.86,0.91,0.6],
  [2016.07,1.17,0.7],[2016.09,1.35,0.75],[2016.16,0.8,0.85],[2016.18,1.15,0.9],[2016.19,0.94,0.9],[2016.20,0.7,0.9],[2016.21,0.52,0.9],
  [2016.22,0.85,0.95],[2016.23,0.38,0.9],[2016.25,0.24,0.9],[2016.26,0.6,0.95],[2016.28,0.45,0.95],[2016.30,0.35,0.95],[2016.32,0.55,0.95],
  [2016.34,0.4,0.95],[2016.36,0.2,0.9],[2016.38,0.5,0.95],[2016.40,0.31,0.95],[2016.42,0.45,0.95],[2016.44,0.24,0.9],[2016.46,0.55,0.95],
  [2016.48,0.66,0.95],[2016.50,0.45,0.95],[2016.52,0.8,0.95],[2016.54,0.6,0.95],[2016.56,0.7,0.95],[2016.58,0.5,0.9],[2016.60,0.73,0.95],
  [2016.62,0.85,0.95],[2016.64,1.36,0.95],[2016.66,0.87,0.95],[2016.68,0.75,0.9],[2016.70,0.94,0.95],[2016.72,1.05,0.95],[2016.74,1.19,0.95],
  [2016.76,0.95,0.9],[2016.78,1.29,0.95],[2016.80,1.1,0.9],[2016.83,1.53,0.9],[2016.85,0.9,0.8],
  [2017.08,0.83,1.2],[2017.19,1.57,0.9],[2017.20,1.36,0.9],[2017.21,1.19,0.95],[2017.22,0.98,0.95],[2017.23,0.87,0.95],[2017.24,0.77,0.95],
  [2017.26,0.95,1.0],[2017.27,0.8,1.0],[2017.29,0.66,1.0],[2017.31,0.85,1.0],[2017.32,0.72,1.0],[2017.34,0.59,0.95],[2017.36,0.8,1.0],
  [2017.38,0.66,0.95],[2017.40,0.52,0.95],[2017.42,0.38,0.9],[2017.44,0.6,0.95],[2017.46,0.31,0.9],[2017.48,0.45,0.9],[2017.50,0.7,0.95],
  [2017.52,0.5,0.9],[2017.54,0.25,0.9],[2017.56,0.4,0.9],[2017.58,0.15,0.85],[2017.60,0.02,0.8],[2017.61,0.8,0.9],[2017.63,0.94,0.9],
  [2017.65,1.15,0.9],[2017.67,1.29,0.9],[2017.69,1.05,0.9],[2017.71,1.5,0.9],[2017.73,1.22,0.85],[2017.75,1.57,0.85],[2017.78,1.35,0.8],
  [2017.81,1.6,0.8],[2017.84,1.73,0.75],
  [2018.06,1.52,0.8],[2018.07,0.84,0.8],[2018.08,1.8,0.85],[2018.09,1.75,0.85],[2018.11,1.01,0.9],[2018.13,0.8,0.9],[2018.15,1.0,0.95],
  [2018.17,1.08,0.95],[2018.18,0.8,0.95],[2018.20,1.33,0.95],[2018.22,0.66,0.95],[2018.24,0.85,0.95],[2018.26,0.7,0.95],[2018.28,0.52,0.9],
  [2018.30,0.6,0.95],[2018.32,0.38,0.9],[2018.34,0.5,0.9],[2018.36,0.45,0.9],[2018.38,0.24,0.85],[2018.40,0.35,0.9],[2018.42,0.6,0.9],
  [2018.44,0.3,0.85],[2018.46,0.15,0.85],[2018.48,0.4,0.85],[2018.50,0.25,0.85],[2018.52,0.0,0.8],[2018.54,0.19,0.85],[2018.56,0.1,0.8],
  [2018.58,0.0,0.8],[2018.60,0.3,0.85],[2018.62,0.52,0.85],[2018.64,0.66,0.9],[2018.66,0.8,0.9],[2018.68,0.7,0.9],[2018.70,1.0,0.9],
  [2018.72,1.22,0.9],[2018.74,1.36,0.9],[2018.76,1.1,0.9],[2018.78,1.5,0.95],[2018.80,1.89,0.95],[2018.81,1.6,0.9],[2018.82,0.73,0.8],
  [2018.83,1.05,0.8]
];

const FONT = 'Liberation Sans, Arial, Helvetica, sans-serif';
const GRID_LINE = '#e5e5e5';
const FRAME = '#b8b8b8';
const BAR_GREY = '#bebebe';
const GREEN = '#009e73';
const ORANGE = '#fc6026';
const CROSS = 'path://M0,2L2,0L5,3L8,0L10,2L7,5L10,8L8,10L5,7L2,10L0,8L3,5Z';

const nameRich = {
  t: { fontSize: 21, lineHeight: 28, verticalAlign: 'bottom', color: '#000', fontFamily: FONT },
  s: { fontSize: 12, lineHeight: 18, verticalAlign: 'top', color: '#000', fontFamily: FONT }
};
const unitName = label => '{t|' + label + ' [m}{s|2}{t| m}{s|\u22122}{t|]}';

// axis that only draws the light grid
function gridAxis(gridIndex, min, max, opts) {
  return Object.assign({
    type: 'value', gridIndex, min, max,
    axisLine: { show: false }, axisTick: { show: false }, axisLabel: { show: false },
    splitLine: { show: true, lineStyle: { color: GRID_LINE, width: 1 } }
  }, opts);
}

// axis that carries ticks, labels and the title
function labelAxis(gridIndex, min, max, opts, label) {
  return Object.assign({
    type: 'value', gridIndex, min, max,
    axisLine: { show: false },
    axisTick: { show: true, length: 4, lineStyle: { color: FRAME } },
    axisLabel: Object.assign({ color: '#4d4d4d', fontSize: 17, fontFamily: FONT, margin: 7 }, label),
    splitLine: { show: false },
    nameLocation: 'middle',
    nameTextStyle: { rich: nameRich }
  }, opts);
}

function errorBars(data, axisIndex) {
  return {
    type: 'custom', xAxisIndex: axisIndex, yAxisIndex: axisIndex, data, clip: true, silent: true, z: 1,
    encode: { x: 0, y: 1 },
    renderItem(params, api) {
      const t = api.value(0), v = api.value(1), sd = api.value(2);
      const lo = api.coord([t, v - sd]);
      const hi = api.coord([t, v + sd]);
      return { type: 'line', shape: { x1: lo[0], y1: lo[1], x2: hi[0], y2: hi[1] },
               style: { stroke: BAR_GREY, lineWidth: 1.6 } };
    },
    markLine: {
      silent: true, symbol: 'none', label: { show: false }, animation: false,
      lineStyle: { color: '#bdbdbd', width: 2, type: 'solid' },
      data: [{ yAxis: 0 }]
    }
  };
}

const gridBase = { show: true, borderColor: FRAME, borderWidth: 1, backgroundColor: 'transparent', containLabel: false, outerBoundsMode: 'none' };
const letter = (text, left, top) =>
  ({ type: 'text', left, top, z: 100, style: { text, fontSize: 19, fill: '#000', fontFamily: FONT } });

const option = {
  animation: false,
  textStyle: { fontFamily: FONT },
  grid: [
    Object.assign({ left: 87, top: 26, width: 174, height: 175 }, gridBase),
    Object.assign({ left: 87, top: 283, width: 174, height: 174 }, gridBase),
    Object.assign({ left: 353, top: 26, width: 719, height: 174 }, gridBase),
    Object.assign({ left: 353, top: 283, width: 719, height: 174 }, gridBase)
  ],
  xAxis: [
    gridAxis(0, 0, 3, { interval: 0.5 }),
    gridAxis(1, 0.3, 1, { interval: 0.1 }),
    gridAxis(2, 2009, 2019, { interval: 0.25 }),
    gridAxis(3, 2009, 2019, { interval: 0.25 }),
    labelAxis(0, 0, 3, { interval: 1, position: 'bottom', name: unitName('MODIS LAI'), nameGap: 29 }),
    labelAxis(1, 0.3, 1, { splitNumber: 4, position: 'bottom', name: unitName('MODIS FVC'), nameGap: 32 },
      { showMinLabel: false, formatter: v => v.toFixed(1) }),
    labelAxis(2, 2009, 2019, { interval: 1, position: 'bottom' }, { show: false }),
    labelAxis(3, 2009, 2019, { interval: 1, position: 'bottom' },
      { showMaxLabel: false, lineHeight: 19, margin: 9, formatter: v => 'Jan\n' + v })
  ],
  yAxis: [
    gridAxis(0, 0, 3, { interval: 0.5 }),
    gridAxis(1, 0.3, 1, { interval: 0.1 }),
    gridAxis(2, -5.1, 57.7, { splitNumber: 6 }),
    gridAxis(3, -0.73, 2.9, { splitNumber: 7 }),
    labelAxis(0, 0, 3, { interval: 1, position: 'left', name: unitName('Retrieved LAI'), nameGap: 35 }),
    labelAxis(1, 0.3, 1, { splitNumber: 4, position: 'left', name: unitName('Retrieved FVC'), nameGap: 44 },
      { showMinLabel: false, formatter: v => v.toFixed(1) }),
    labelAxis(2, -5.1, 57.7, { splitNumber: 3, position: 'left', nameGap: 40,
      name: '{t|Cab [\u03bcg cm}{s|\u22122}{t|]}' }, { showMinLabel: false, showMaxLabel: false }),
    labelAxis(3, -0.73, 2.9, { splitNumber: 4, position: 'left', nameGap: 43, name: '{t|Cs}' },
      { showMinLabel: false, showMaxLabel: false })
  ],
  legend: [
    {
      data: [{ name: 'small', icon: 'circle', itemStyle: { color: '#000' } }],
      left: 577, top: 212, itemWidth: 46, itemHeight: 6, selectedMode: false, symbolKeepAspect: true,
      formatter: () => 'Small posterior error',
      textStyle: { fontSize: 17, color: '#000', fontFamily: FONT }
    },
    {
      data: [{ name: 'large', icon: CROSS, itemStyle: { color: '#000' } }],
      left: 577, top: 246, itemWidth: 46, itemHeight: 6, selectedMode: false, symbolKeepAspect: true,
      formatter: () => '{n|Large posterior error (\u03c3}{s|Cab}{n| > 20)}',
      textStyle: {
        fontSize: 17, color: '#000', fontFamily: FONT,
        rich: {
          n: { fontSize: 17, lineHeight: 22, verticalAlign: 'top', color: '#000', fontFamily: FONT },
          s: { fontSize: 11, lineHeight: 13, verticalAlign: 'bottom', color: '#000', fontFamily: FONT }
        }
      }
    }
  ],
  graphic: [
    letter('a', 98, 40),
    letter('b', 98, 296),
    letter('c', 365, 39),
    letter('d', 365, 296)
  ],
  series: [
    { type: 'scatter', xAxisIndex: 0, yAxisIndex: 0, data: laiPoints, symbolSize: 8.5, silent: true, z: 2,
      itemStyle: { color: 'rgba(0,0,0,0.3)' } },
    { type: 'line', xAxisIndex: 0, yAxisIndex: 0, data: identityLai, symbol: 'none', silent: true, z: 3,
      lineStyle: { color: FRAME, width: 1.5 } },
    { type: 'scatter', xAxisIndex: 1, yAxisIndex: 1, data: fvcPoints, symbolSize: 8.5, silent: true, z: 2,
      itemStyle: { color: 'rgba(0,0,0,0.3)' } },
    { type: 'line', xAxisIndex: 1, yAxisIndex: 1, data: identityFvc, symbol: 'none', silent: true, z: 3,
      lineStyle: { color: FRAME, width: 1.5 } },
    errorBars(cabSmall.concat(cabLarge), 2),
    { name: 'large', type: 'scatter', xAxisIndex: 2, yAxisIndex: 2, data: cabLarge, symbol: CROSS,
      symbolSize: 8, silent: true, z: 3, itemStyle: { color: '#000' } },
    { name: 'small', type: 'scatter', xAxisIndex: 2, yAxisIndex: 2, data: cabSmall, symbolSize: 7.5,
      silent: true, z: 4, itemStyle: { color: GREEN, opacity: 1 } },
    errorBars(csPoints, 3),
    { type: 'scatter', xAxisIndex: 3, yAxisIndex: 3, data: csPoints, symbolSize: 7.5, silent: true, z: 4,
      itemStyle: { color: ORANGE, opacity: 1 } }
  ]
};

const chart = echarts.init(document.getElementById('chart'), null, { renderer: 'canvas' });
chart.setOption(option);
</script>
</body>
</html>
